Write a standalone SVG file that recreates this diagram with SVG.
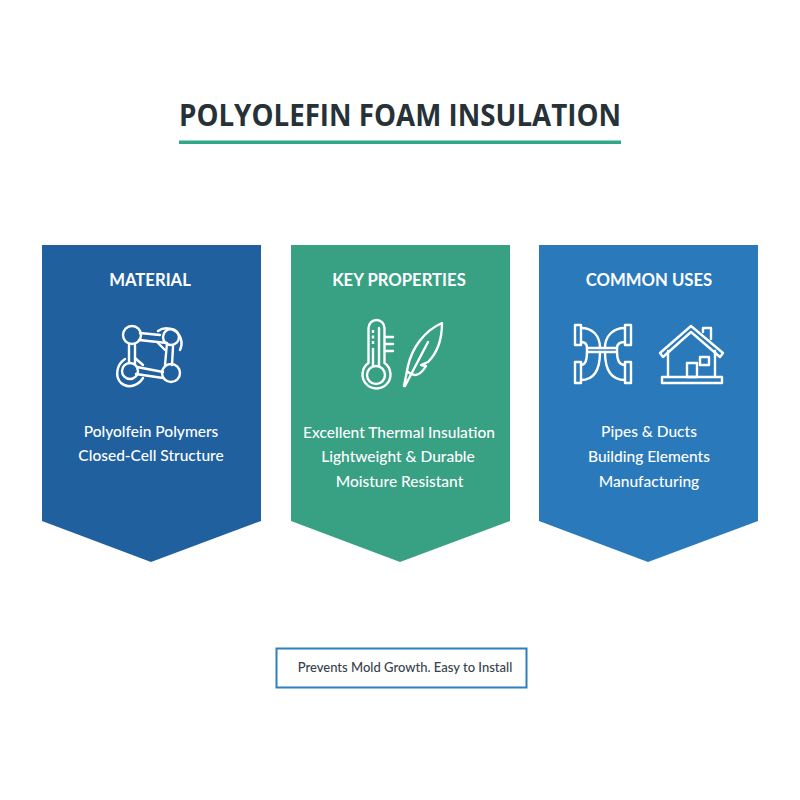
<svg xmlns="http://www.w3.org/2000/svg" width="800" height="800" viewBox="0 0 800 800">
<style>
text{font-family:Lato,"Open Sans",sans-serif;text-anchor:middle}
.h{font-size:16.700px;font-weight:700;fill:#fff}
.b{font-size:15.500px;font-weight:500;fill:#fff}
.i{fill:none;stroke:#fff;stroke-width:2.400;stroke-linejoin:round;stroke-linecap:round}
</style>
<rect width="800" height="800" fill="#fff"/>
<g id="title">
<text x="400" y="125.500" font-size="29.500" font-weight="700" fill="#263238" style="font-family:'Open Sans',sans-serif" textLength="442" lengthAdjust="spacingAndGlyphs">POLYOLEFIN FOAM INSULATION</text>
<rect x="179" y="140.500" width="442" height="3.500" fill="#2fa88a"/>
</g>
<g id="material">
<path d="M42 245H261V521L151 562L42 521Z" fill="#20609f"/>
<text class="h" x="150" y="286">MATERIAL</text>
<g class="i">
<path d="M140 333L160 335M139 340L167 343M129 345V363M135 345V364M167 343L165 365M173 347L172 365M137 367L163 372M136 374L163 378"/>
<circle cx="132" cy="335" r="9"/><circle cx="171" cy="373" r="9"/><circle cx="130" cy="371" r="8"/><circle cx="171" cy="337" r="8"/>
<path d="M158 331A15 15 0 0 1 180 350M125 359C116 365 115 377 121 383C128 389 138 386 143 378M135 358L143 365M158 343L165 350"/>
</g>
<text class="b" x="151" y="437">Polyolfein Polymers</text>
<text class="b" x="151" y="461">Closed-Cell Structure</text>
</g>
<g id="properties">
<path d="M291 245H510V521L400 562L291 521Z" fill="#38a083"/>
<text class="h" x="399" y="286">KEY PROPERTIES</text>
<g class="i">
<path d="M368.500 363V328A8 8 0 0 1 384.500 328V363A14 14 0 1 1 368.500 363Z"/>
<circle cx="376" cy="375" r="9"/>
<path d="M373 330V345" stroke-dasharray="3 2.500" stroke-linecap="butt"/>
<path d="M373 349V366M379 328V366"/>
<path d="M385 337H393M385 344H393M385 351H393"/>
<path d="M404 386L408 366C412 348 424 331 442 323C442 340 438 352 428 362L421 365L426 366C420 376 414 377 408 372M405 386L428 342"/>
</g>
<text class="b" x="399" y="438">Excellent Thermal Insulation</text>
<text class="b" x="398" y="462">Lightweight &amp; Durable</text>
<text class="b" x="399.500" y="487">Moisture Resistant</text>
</g>
<g id="uses">
<path d="M539 245H758V521L648 562L539 521Z" fill="#2a79ba"/>
<text class="h" x="649" y="286">COMMON USES</text>
<g class="i">
<path d="M575 325H581V345H575ZM575 362H581V383H575ZM631 325H625V345H631ZM631 362H625V383H631Z"/>
<path d="M581 328C593 328 600 336 600 348M581 342C585 342 587 344 587 348M581 380C593 380 600 372 600 352M581 365C585 365 587 362 587 352M625 328C613 328 605 336 605 348M625 342C620 342 617 344 617 348M625 380C613 380 605 372 605 352M625 365C620 365 617 362 617 352"/>
<path d="M587 348H617V352H587Z"/>
<path d="M660 353L691 326L723 353L720 357L691 332L663 357Z"/>
<path d="M668 351V377M715 351V377"/>
<path d="M703 332V328H711V339"/>
<rect x="687" y="363" width="10" height="14"/><rect x="700" y="357" width="9" height="8"/>
<path d="M662 377H722V383H662Z"/>
</g>
<text class="b" x="649" y="437">Pipes &amp; Ducts</text>
<text class="b" x="649" y="462">Building Elements</text>
<text class="b" x="649" y="487">Manufacturing</text>
</g>
<g id="note">
<rect x="276.500" y="648.500" width="250" height="39" fill="#fff" stroke="#2f7fbd" stroke-width="2"/>
<text x="405" y="672" font-size="13" font-weight="500" fill="#37424a">Prevents Mold Growth. Easy to Install</text>
</g>
</svg>
